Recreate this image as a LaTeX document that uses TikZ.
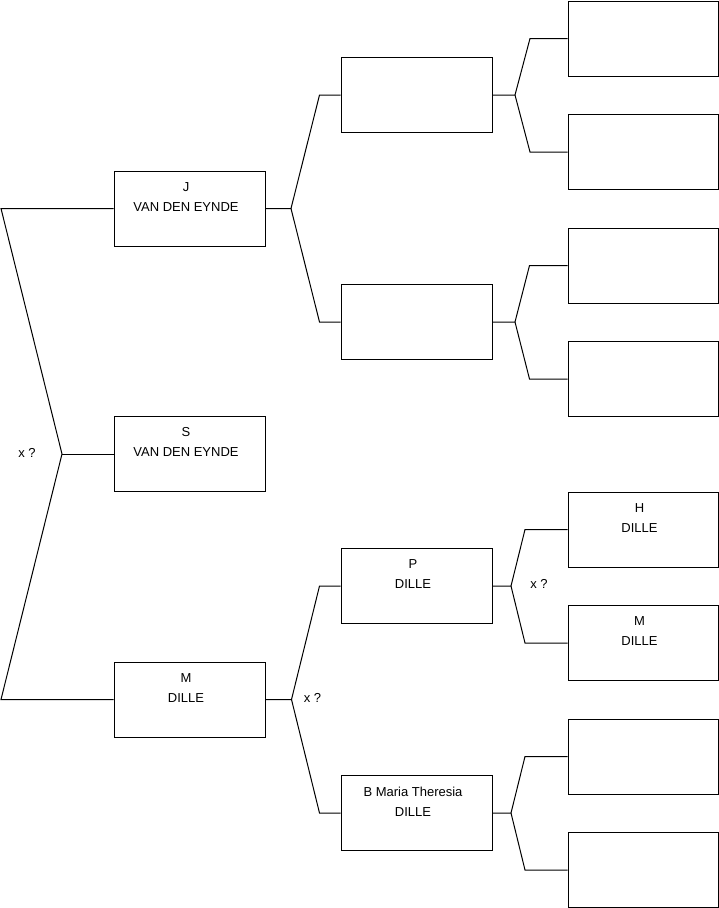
\documentclass[tikz,border=0pt]{standalone}
\usepackage{fontspec}
\setmainfont{Liberation Sans}
\begin{document}
\begin{tikzpicture}[x=1pt,y=-1pt,
  box/.style={draw=black,line width=1pt,minimum width=151pt,minimum height=75pt,inner sep=0pt},
  txt/.style={anchor=north,inner sep=0pt,align=center,font=\fontsize{13}{20}\selectfont},
  lbl/.style={inner sep=0pt,font=\fontsize{13}{20}\selectfont},
  conn/.style={draw=black,line width=1pt,line join=miter}]
\useasboundingbox (0,0) rectangle (719,908);
% generation 1
\node[box] (J) at (189.5,208.5) {};
\node[box] (S) at (189.5,454) {};
\node[box] (M) at (189.5,699.5) {};
% generation 2
\node[box] (A) at (416.5,95) {};
\node[box] (B) at (416.5,322) {};
\node[box] (P) at (416.5,586) {};
\node[box] (T) at (416.5,813) {};
% generation 3
\node[box,minimum width=150pt] (A1) at (643,38.5) {};
\node[box,minimum width=150pt] (A2) at (643,152) {};
\node[box,minimum width=150pt] (B1) at (643,265.5) {};
\node[box,minimum width=150pt] (B2) at (643,379) {};
\node[box,minimum width=150pt] (P1) at (643,529.5) {};
\node[box,minimum width=150pt] (P2) at (643,643) {};
\node[box,minimum width=150pt] (T1) at (643,756.5) {};
\node[box,minimum width=150pt] (T2) at (643,870) {};
% texts
\node[txt] (Jt) at ([xshift=-3.5pt,yshift=-11.4pt]J.north) {J\\VAN DEN EYNDE};
\node[txt] (St) at ([xshift=-3.5pt,yshift=-11.4pt]S.north) {S\\VAN DEN EYNDE};
\node[txt] (Mt) at ([xshift=-3.5pt,yshift=-11.4pt]M.north) {M\\DILLE};
\node[txt] (Pt) at ([xshift=-3.5pt,yshift=-11.4pt]P.north) {P\\DILLE};
\node[txt] (Tt) at ([xshift=-3.5pt,yshift=-11.4pt]T.north) {B Maria Theresia\\DILLE};
\node[txt] (P1t) at ([xshift=-3.5pt,yshift=-11.4pt]P1.north) {H\\DILLE};
\node[txt] (P2t) at ([xshift=-3.5pt,yshift=-11.4pt]P2.north) {M\\DILLE};
% fork points
\coordinate (f0) at (62,454);
\coordinate (f0a) at (1,208.5);
\coordinate (f0b) at (1,699.5);
\coordinate (fJ) at (291,208.5);
\coordinate (fJa) at (319.5,95);
\coordinate (fJb) at (319.5,322);
\coordinate (fM) at (291.5,699.5);
\coordinate (fMa) at (319.5,586);
\coordinate (fMb) at (319.5,813);
\coordinate (fA) at (515,95);
\coordinate (fAa) at (530,38.5);
\coordinate (fAb) at (530,152);
\coordinate (fB) at (515,322);
\coordinate (fBa) at (529.5,265.5);
\coordinate (fBb) at (529.5,379);
\coordinate (fP) at (511,586);
\coordinate (fPa) at (525,529.5);
\coordinate (fPb) at (525,643);
\coordinate (fT) at (511,813);
\coordinate (fTa) at (525,756.5);
\coordinate (fTb) at (525,870);
% connectors
\draw[conn] (J.west) -- (f0a) -- (f0) -- (f0b) -- (M.west);
\draw[conn] (f0) -- (S.west);
\draw[conn] (J.east) -- (fJ) -- (fJa) -- (A.west);
\draw[conn] (fJ) -- (fJb) -- (B.west);
\draw[conn] (M.east) -- (fM) -- (fMa) -- (P.west);
\draw[conn] (fM) -- (fMb) -- (T.west);
\draw[conn] (A.east) -- (fA) -- (fAa) -- (A1.west);
\draw[conn] (fA) -- (fAb) -- (A2.west);
\draw[conn] (B.east) -- (fB) -- (fBa) -- (B1.west);
\draw[conn] (fB) -- (fBb) -- (B2.west);
\draw[conn] (P.east) -- (fP) -- (fPa) -- (P1.west);
\draw[conn] (fP) -- (fPb) -- (P2.west);
\draw[conn] (T.east) -- (fT) -- (fTa) -- (T1.west);
\draw[conn] (fT) -- (fTb) -- (T2.west);
% labels
\node[lbl] (x0) at (27,453) {x ?};
\node[lbl] (x1) at (312.5,697.5) {x ?};
\node[lbl] (x2) at (539,584) {x ?};
\end{tikzpicture}
\end{document}
